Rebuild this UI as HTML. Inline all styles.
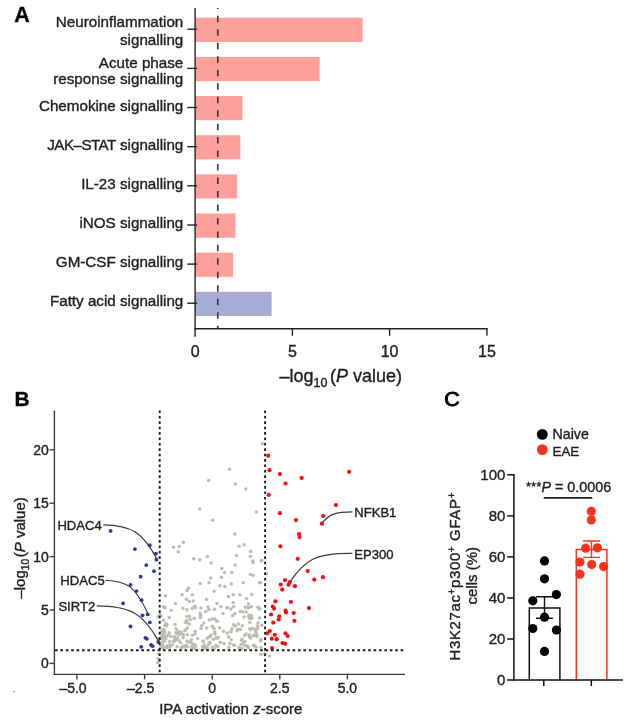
<!DOCTYPE html>
<html lang="en"><head><meta charset="utf-8"><title>Figure</title>
<style>html,body{margin:0;padding:0;background:#fff}svg{display:block}svg text{stroke:#1f1f24;stroke-width:.38px}</style>
</head><body>
<svg width="629" height="722" viewBox="0 0 629 722" font-family='"Liberation Sans", sans-serif' fill="#1f1f24">
<rect width="629" height="722" fill="#fff"/>
<g id="panelA">
<text x="14.3" y="21.6" font-size="21.5" font-weight="bold" fill="#000">A</text>
<rect x="195.1" y="17.7" width="167.5" height="24.2" fill="#fda09c"/>
<rect x="195.1" y="56.9" width="124.5" height="24.2" fill="#fda09c"/>
<rect x="195.1" y="96.0" width="47.4" height="24.2" fill="#fda09c"/>
<rect x="195.1" y="135.2" width="45.2" height="24.2" fill="#fda09c"/>
<rect x="195.1" y="174.3" width="42.0" height="24.2" fill="#fda09c"/>
<rect x="195.1" y="213.5" width="40.3" height="24.2" fill="#fda09c"/>
<rect x="195.1" y="252.6" width="38.0" height="24.2" fill="#fda09c"/>
<rect x="195.1" y="291.8" width="76.5" height="24.2" fill="#a7acd5"/>
<line x1="217.8" y1="8" x2="217.8" y2="329" stroke="#3c3c3c" stroke-width="1.7" stroke-dasharray="6.5 6.97" stroke-dashoffset="5.6"/>
<line x1="195.1" y1="8" x2="195.1" y2="336.8" stroke="#222" stroke-width="1.4"/>
<line x1="194.4" y1="328.8" x2="487.5" y2="328.8" stroke="#222" stroke-width="1.4"/>
<line x1="187.3" y1="29.2" x2="197" y2="29.2" stroke="#222" stroke-width="1.4"/>
<line x1="187.3" y1="68.4" x2="197" y2="68.4" stroke="#222" stroke-width="1.4"/>
<line x1="187.3" y1="107.5" x2="197" y2="107.5" stroke="#222" stroke-width="1.4"/>
<line x1="187.3" y1="146.7" x2="197" y2="146.7" stroke="#222" stroke-width="1.4"/>
<line x1="187.3" y1="185.8" x2="197" y2="185.8" stroke="#222" stroke-width="1.4"/>
<line x1="187.3" y1="225.0" x2="197" y2="225.0" stroke="#222" stroke-width="1.4"/>
<line x1="187.3" y1="264.1" x2="197" y2="264.1" stroke="#222" stroke-width="1.4"/>
<line x1="187.3" y1="303.2" x2="197" y2="303.2" stroke="#222" stroke-width="1.4"/>
<line x1="292.4" y1="328" x2="292.4" y2="335.8" stroke="#222" stroke-width="1.4"/>
<line x1="389.6" y1="328" x2="389.6" y2="335.8" stroke="#222" stroke-width="1.4"/>
<line x1="486.9" y1="328" x2="486.9" y2="335.8" stroke="#222" stroke-width="1.4"/>
<g font-size="15.2" text-anchor="end">
<text x="183.3" y="26.5">Neuroinflammation</text>
<text x="183.3" y="44.5">signalling</text>
<text x="183.3" y="67.5">Acute phase</text>
<text x="183.3" y="84.4">response signalling</text>
<text x="183.3" y="110.6">Chemokine signalling</text>
<text x="183.3" y="149.5"><tspan letter-spacing="-0.55">JAK–STAT</tspan> signalling</text>
<text x="183.3" y="188.7">IL-23 signalling</text>
<text x="183.3" y="227.9">iNOS signalling</text>
<text x="183.3" y="267.1">GM-CSF signalling</text>
<text x="183.3" y="306.3">Fatty acid signalling</text>
</g>
<g font-size="16" text-anchor="middle">
<text x="195.1" y="356.8">0</text>
<text x="292.4" y="356.8">5</text>
<text x="389.6" y="356.8">10</text>
<text x="486.9" y="356.8">15</text>
</g>
<text x="279.5" y="382.3" font-size="18">–log<tspan font-size="12.5" dy="4.5">10</tspan><tspan dy="-4.5" dx="2.5">(</tspan><tspan font-style="italic">P</tspan> value)</text>
</g>
<g id="panelB">
<text x="14.6" y="405.8" font-size="21" font-weight="bold" fill="#000">B</text>
<circle cx="262.4" cy="443.8" r="1.75" fill="#bdbcb5"/>
<circle cx="229.6" cy="469.2" r="1.75" fill="#bdbcb5"/>
<circle cx="208.6" cy="480.4" r="1.75" fill="#bdbcb5"/>
<circle cx="235.3" cy="484.1" r="1.75" fill="#bdbcb5"/>
<circle cx="245.8" cy="489.0" r="1.75" fill="#bdbcb5"/>
<circle cx="199.8" cy="509.1" r="1.75" fill="#bdbcb5"/>
<circle cx="256.3" cy="511.9" r="1.75" fill="#bdbcb5"/>
<circle cx="212.6" cy="520.3" r="1.75" fill="#bdbcb5"/>
<circle cx="234.9" cy="533.9" r="1.75" fill="#bdbcb5"/>
<circle cx="183.4" cy="542.3" r="1.75" fill="#bdbcb5"/>
<circle cx="173.5" cy="547.2" r="1.75" fill="#bdbcb5"/>
<circle cx="179.2" cy="546.4" r="1.75" fill="#bdbcb5"/>
<circle cx="178.3" cy="551.8" r="1.75" fill="#bdbcb5"/>
<circle cx="239.1" cy="546.3" r="1.75" fill="#bdbcb5"/>
<circle cx="244.1" cy="544.7" r="1.75" fill="#bdbcb5"/>
<circle cx="250.6" cy="551.6" r="1.75" fill="#bdbcb5"/>
<circle cx="250.4" cy="556.4" r="1.75" fill="#bdbcb5"/>
<circle cx="236.5" cy="555.6" r="1.75" fill="#bdbcb5"/>
<circle cx="207.5" cy="556.6" r="1.75" fill="#bdbcb5"/>
<circle cx="193.7" cy="558.7" r="1.75" fill="#bdbcb5"/>
<circle cx="199.8" cy="559.8" r="1.75" fill="#bdbcb5"/>
<circle cx="252.7" cy="561.0" r="1.75" fill="#bdbcb5"/>
<circle cx="261.8" cy="560.5" r="1.75" fill="#bdbcb5"/>
<circle cx="211.1" cy="563.0" r="1.75" fill="#bdbcb5"/>
<circle cx="253.2" cy="562.4" r="1.75" fill="#bdbcb5"/>
<circle cx="235.1" cy="564.9" r="1.75" fill="#bdbcb5"/>
<circle cx="221.8" cy="568.5" r="1.75" fill="#bdbcb5"/>
<circle cx="224.6" cy="572.5" r="1.75" fill="#bdbcb5"/>
<circle cx="231.7" cy="572.5" r="1.75" fill="#bdbcb5"/>
<circle cx="250.4" cy="574.4" r="1.75" fill="#bdbcb5"/>
<circle cx="253.2" cy="575.2" r="1.75" fill="#bdbcb5"/>
<circle cx="266.6" cy="573.5" r="1.75" fill="#bdbcb5"/>
<circle cx="210.7" cy="578.0" r="1.75" fill="#bdbcb5"/>
<circle cx="221.4" cy="577.3" r="1.75" fill="#bdbcb5"/>
<circle cx="200.2" cy="583.6" r="1.75" fill="#bdbcb5"/>
<circle cx="209.0" cy="582.8" r="1.75" fill="#bdbcb5"/>
<circle cx="219.9" cy="585.7" r="1.75" fill="#bdbcb5"/>
<circle cx="224.8" cy="586.6" r="1.75" fill="#bdbcb5"/>
<circle cx="231.3" cy="584.0" r="1.75" fill="#bdbcb5"/>
<circle cx="243.3" cy="582.8" r="1.75" fill="#bdbcb5"/>
<circle cx="259.5" cy="582.8" r="1.75" fill="#bdbcb5"/>
<circle cx="188.4" cy="588.2" r="1.75" fill="#bdbcb5"/>
<circle cx="187.0" cy="590.6" r="1.75" fill="#bdbcb5"/>
<circle cx="214.1" cy="591.2" r="1.75" fill="#bdbcb5"/>
<circle cx="165.5" cy="595.8" r="1.75" fill="#bdbcb5"/>
<circle cx="182.1" cy="594.8" r="1.75" fill="#bdbcb5"/>
<circle cx="192.4" cy="594.8" r="1.75" fill="#bdbcb5"/>
<circle cx="228.4" cy="596.4" r="1.75" fill="#bdbcb5"/>
<circle cx="233.2" cy="594.8" r="1.75" fill="#bdbcb5"/>
<circle cx="239.9" cy="594.8" r="1.75" fill="#bdbcb5"/>
<circle cx="251.7" cy="594.4" r="1.75" fill="#bdbcb5"/>
<circle cx="246.6" cy="598.6" r="1.75" fill="#bdbcb5"/>
<circle cx="186.5" cy="599.2" r="1.75" fill="#bdbcb5"/>
<circle cx="189.3" cy="601.5" r="1.75" fill="#bdbcb5"/>
<circle cx="193.2" cy="601.1" r="1.75" fill="#bdbcb5"/>
<circle cx="206.5" cy="599.6" r="1.75" fill="#bdbcb5"/>
<circle cx="175.4" cy="603.4" r="1.75" fill="#bdbcb5"/>
<circle cx="163.6" cy="606.8" r="1.75" fill="#bdbcb5"/>
<circle cx="194.7" cy="606.3" r="1.75" fill="#bdbcb5"/>
<circle cx="217.0" cy="603.4" r="1.75" fill="#bdbcb5"/>
<circle cx="220.8" cy="606.7" r="1.75" fill="#bdbcb5"/>
<circle cx="233.2" cy="602.5" r="1.75" fill="#bdbcb5"/>
<circle cx="233.6" cy="606.7" r="1.75" fill="#bdbcb5"/>
<circle cx="248.5" cy="604.0" r="1.75" fill="#bdbcb5"/>
<circle cx="251.3" cy="606.7" r="1.75" fill="#bdbcb5"/>
<circle cx="158.8" cy="654.0" r="1.75" fill="#bdbcb5"/>
<circle cx="158.4" cy="658.7" r="1.75" fill="#bdbcb5"/>
<circle cx="157.9" cy="662.5" r="1.75" fill="#bdbcb5"/>
<circle cx="260.9" cy="654.5" r="1.75" fill="#bdbcb5"/>
<circle cx="264.7" cy="654.0" r="1.75" fill="#bdbcb5"/>
<circle cx="269.5" cy="655.9" r="1.75" fill="#bdbcb5"/>
<circle cx="261.4" cy="561.0" r="1.75" fill="#bdbcb5"/>
<circle cx="260.6" cy="582.6" r="1.75" fill="#bdbcb5"/>
<circle cx="259.0" cy="609.0" r="1.75" fill="#bdbcb5"/>
<circle cx="258.0" cy="628.0" r="1.75" fill="#bdbcb5"/>
<circle cx="175.9" cy="639.3" r="1.75" fill="#bdbcb5"/>
<circle cx="167.9" cy="635.3" r="1.75" fill="#bdbcb5"/>
<circle cx="212.3" cy="647.6" r="1.75" fill="#bdbcb5"/>
<circle cx="204.7" cy="648.0" r="1.75" fill="#bdbcb5"/>
<circle cx="169.8" cy="647.3" r="1.75" fill="#bdbcb5"/>
<circle cx="244.8" cy="635.3" r="1.75" fill="#bdbcb5"/>
<circle cx="183.3" cy="646.0" r="1.75" fill="#bdbcb5"/>
<circle cx="257.2" cy="626.1" r="1.75" fill="#bdbcb5"/>
<circle cx="201.0" cy="628.5" r="1.75" fill="#bdbcb5"/>
<circle cx="165.3" cy="607.8" r="1.75" fill="#bdbcb5"/>
<circle cx="175.2" cy="640.6" r="1.75" fill="#bdbcb5"/>
<circle cx="192.0" cy="646.2" r="1.75" fill="#bdbcb5"/>
<circle cx="178.9" cy="640.8" r="1.75" fill="#bdbcb5"/>
<circle cx="216.4" cy="637.4" r="1.75" fill="#bdbcb5"/>
<circle cx="166.6" cy="647.5" r="1.75" fill="#bdbcb5"/>
<circle cx="229.9" cy="643.5" r="1.75" fill="#bdbcb5"/>
<circle cx="192.5" cy="635.2" r="1.75" fill="#bdbcb5"/>
<circle cx="206.7" cy="628.1" r="1.75" fill="#bdbcb5"/>
<circle cx="241.5" cy="640.2" r="1.75" fill="#bdbcb5"/>
<circle cx="185.4" cy="622.6" r="1.75" fill="#bdbcb5"/>
<circle cx="214.1" cy="628.6" r="1.75" fill="#bdbcb5"/>
<circle cx="234.9" cy="613.4" r="1.75" fill="#bdbcb5"/>
<circle cx="260.5" cy="640.7" r="1.75" fill="#bdbcb5"/>
<circle cx="203.1" cy="646.2" r="1.75" fill="#bdbcb5"/>
<circle cx="176.0" cy="628.8" r="1.75" fill="#bdbcb5"/>
<circle cx="238.5" cy="624.1" r="1.75" fill="#bdbcb5"/>
<circle cx="249.8" cy="628.7" r="1.75" fill="#bdbcb5"/>
<circle cx="231.4" cy="639.7" r="1.75" fill="#bdbcb5"/>
<circle cx="219.6" cy="627.7" r="1.75" fill="#bdbcb5"/>
<circle cx="246.2" cy="633.9" r="1.75" fill="#bdbcb5"/>
<circle cx="208.9" cy="609.6" r="1.75" fill="#bdbcb5"/>
<circle cx="166.7" cy="624.3" r="1.75" fill="#bdbcb5"/>
<circle cx="261.8" cy="625.2" r="1.75" fill="#bdbcb5"/>
<circle cx="189.5" cy="616.3" r="1.75" fill="#bdbcb5"/>
<circle cx="228.7" cy="636.9" r="1.75" fill="#bdbcb5"/>
<circle cx="207.6" cy="648.2" r="1.75" fill="#bdbcb5"/>
<circle cx="172.4" cy="644.7" r="1.75" fill="#bdbcb5"/>
<circle cx="238.9" cy="647.6" r="1.75" fill="#bdbcb5"/>
<circle cx="185.8" cy="645.8" r="1.75" fill="#bdbcb5"/>
<circle cx="249.4" cy="636.7" r="1.75" fill="#bdbcb5"/>
<circle cx="206.3" cy="647.1" r="1.75" fill="#bdbcb5"/>
<circle cx="250.6" cy="629.8" r="1.75" fill="#bdbcb5"/>
<circle cx="248.6" cy="616.4" r="1.75" fill="#bdbcb5"/>
<circle cx="202.9" cy="641.0" r="1.75" fill="#bdbcb5"/>
<circle cx="250.7" cy="638.0" r="1.75" fill="#bdbcb5"/>
<circle cx="175.9" cy="632.6" r="1.75" fill="#bdbcb5"/>
<circle cx="210.0" cy="642.6" r="1.75" fill="#bdbcb5"/>
<circle cx="187.3" cy="627.9" r="1.75" fill="#bdbcb5"/>
<circle cx="203.2" cy="648.5" r="1.75" fill="#bdbcb5"/>
<circle cx="218.3" cy="637.6" r="1.75" fill="#bdbcb5"/>
<circle cx="230.9" cy="609.1" r="1.75" fill="#bdbcb5"/>
<circle cx="223.5" cy="631.3" r="1.75" fill="#bdbcb5"/>
<circle cx="166.0" cy="623.7" r="1.75" fill="#bdbcb5"/>
<circle cx="249.7" cy="618.5" r="1.75" fill="#bdbcb5"/>
<circle cx="200.5" cy="617.5" r="1.75" fill="#bdbcb5"/>
<circle cx="171.1" cy="636.4" r="1.75" fill="#bdbcb5"/>
<circle cx="166.8" cy="625.8" r="1.75" fill="#bdbcb5"/>
<circle cx="181.8" cy="647.4" r="1.75" fill="#bdbcb5"/>
<circle cx="195.2" cy="644.9" r="1.75" fill="#bdbcb5"/>
<circle cx="160.5" cy="647.7" r="1.75" fill="#bdbcb5"/>
<circle cx="170.8" cy="645.2" r="1.75" fill="#bdbcb5"/>
<circle cx="163.1" cy="637.8" r="1.75" fill="#bdbcb5"/>
<circle cx="223.1" cy="613.5" r="1.75" fill="#bdbcb5"/>
<circle cx="186.2" cy="645.3" r="1.75" fill="#bdbcb5"/>
<circle cx="197.6" cy="638.4" r="1.75" fill="#bdbcb5"/>
<circle cx="247.1" cy="646.0" r="1.75" fill="#bdbcb5"/>
<circle cx="208.0" cy="606.9" r="1.75" fill="#bdbcb5"/>
<circle cx="169.3" cy="632.7" r="1.75" fill="#bdbcb5"/>
<circle cx="195.4" cy="646.6" r="1.75" fill="#bdbcb5"/>
<circle cx="245.0" cy="641.5" r="1.75" fill="#bdbcb5"/>
<circle cx="162.9" cy="644.9" r="1.75" fill="#bdbcb5"/>
<circle cx="214.4" cy="609.3" r="1.75" fill="#bdbcb5"/>
<circle cx="215.9" cy="645.4" r="1.75" fill="#bdbcb5"/>
<circle cx="214.4" cy="648.2" r="1.75" fill="#bdbcb5"/>
<circle cx="248.6" cy="607.7" r="1.75" fill="#bdbcb5"/>
<circle cx="187.1" cy="622.7" r="1.75" fill="#bdbcb5"/>
<circle cx="177.5" cy="637.7" r="1.75" fill="#bdbcb5"/>
<circle cx="214.8" cy="618.9" r="1.75" fill="#bdbcb5"/>
<circle cx="194.1" cy="618.5" r="1.75" fill="#bdbcb5"/>
<circle cx="243.3" cy="643.0" r="1.75" fill="#bdbcb5"/>
<circle cx="247.5" cy="607.4" r="1.75" fill="#bdbcb5"/>
<circle cx="244.0" cy="617.1" r="1.75" fill="#bdbcb5"/>
<circle cx="183.6" cy="635.1" r="1.75" fill="#bdbcb5"/>
<circle cx="163.3" cy="648.1" r="1.75" fill="#bdbcb5"/>
<circle cx="186.9" cy="641.0" r="1.75" fill="#bdbcb5"/>
<circle cx="258.1" cy="622.9" r="1.75" fill="#bdbcb5"/>
<circle cx="256.1" cy="634.3" r="1.75" fill="#bdbcb5"/>
<circle cx="257.9" cy="607.2" r="1.75" fill="#bdbcb5"/>
<circle cx="183.0" cy="637.7" r="1.75" fill="#bdbcb5"/>
<circle cx="180.6" cy="642.8" r="1.75" fill="#bdbcb5"/>
<circle cx="224.2" cy="643.6" r="1.75" fill="#bdbcb5"/>
<circle cx="246.2" cy="612.1" r="1.75" fill="#bdbcb5"/>
<circle cx="227.1" cy="632.9" r="1.75" fill="#bdbcb5"/>
<circle cx="169.1" cy="617.4" r="1.75" fill="#bdbcb5"/>
<circle cx="240.3" cy="611.5" r="1.75" fill="#bdbcb5"/>
<circle cx="209.3" cy="620.0" r="1.75" fill="#bdbcb5"/>
<circle cx="241.0" cy="644.4" r="1.75" fill="#bdbcb5"/>
<circle cx="242.2" cy="639.0" r="1.75" fill="#bdbcb5"/>
<circle cx="200.9" cy="608.1" r="1.75" fill="#bdbcb5"/>
<circle cx="257.1" cy="636.3" r="1.75" fill="#bdbcb5"/>
<circle cx="177.8" cy="631.0" r="1.75" fill="#bdbcb5"/>
<circle cx="242.8" cy="611.8" r="1.75" fill="#bdbcb5"/>
<circle cx="244.8" cy="645.4" r="1.75" fill="#bdbcb5"/>
<circle cx="227.5" cy="607.6" r="1.75" fill="#bdbcb5"/>
<circle cx="216.5" cy="638.3" r="1.75" fill="#bdbcb5"/>
<circle cx="162.0" cy="645.8" r="1.75" fill="#bdbcb5"/>
<circle cx="226.8" cy="608.1" r="1.75" fill="#bdbcb5"/>
<circle cx="255.7" cy="630.8" r="1.75" fill="#bdbcb5"/>
<circle cx="249.4" cy="634.9" r="1.75" fill="#bdbcb5"/>
<circle cx="182.0" cy="633.9" r="1.75" fill="#bdbcb5"/>
<circle cx="220.3" cy="642.4" r="1.75" fill="#bdbcb5"/>
<circle cx="203.2" cy="641.7" r="1.75" fill="#bdbcb5"/>
<circle cx="253.3" cy="645.8" r="1.75" fill="#bdbcb5"/>
<circle cx="207.2" cy="638.2" r="1.75" fill="#bdbcb5"/>
<circle cx="252.7" cy="628.2" r="1.75" fill="#bdbcb5"/>
<circle cx="254.1" cy="635.5" r="1.75" fill="#bdbcb5"/>
<circle cx="214.7" cy="632.0" r="1.75" fill="#bdbcb5"/>
<circle cx="162.4" cy="631.0" r="1.75" fill="#bdbcb5"/>
<circle cx="179.2" cy="634.6" r="1.75" fill="#bdbcb5"/>
<circle cx="242.0" cy="648.5" r="1.75" fill="#bdbcb5"/>
<circle cx="208.8" cy="644.6" r="1.75" fill="#bdbcb5"/>
<circle cx="217.3" cy="621.3" r="1.75" fill="#bdbcb5"/>
<circle cx="213.4" cy="639.3" r="1.75" fill="#bdbcb5"/>
<circle cx="240.5" cy="629.5" r="1.75" fill="#bdbcb5"/>
<circle cx="217.7" cy="646.5" r="1.75" fill="#bdbcb5"/>
<circle cx="188.7" cy="642.1" r="1.75" fill="#bdbcb5"/>
<circle cx="212.3" cy="618.9" r="1.75" fill="#bdbcb5"/>
<circle cx="238.0" cy="629.2" r="1.75" fill="#bdbcb5"/>
<circle cx="205.7" cy="611.4" r="1.75" fill="#bdbcb5"/>
<circle cx="212.1" cy="626.8" r="1.75" fill="#bdbcb5"/>
<circle cx="231.2" cy="631.5" r="1.75" fill="#bdbcb5"/>
<circle cx="214.9" cy="634.1" r="1.75" fill="#bdbcb5"/>
<circle cx="256.5" cy="633.0" r="1.75" fill="#bdbcb5"/>
<circle cx="249.9" cy="622.6" r="1.75" fill="#bdbcb5"/>
<circle cx="187.0" cy="609.7" r="1.75" fill="#bdbcb5"/>
<circle cx="256.7" cy="629.3" r="1.75" fill="#bdbcb5"/>
<circle cx="174.5" cy="636.8" r="1.75" fill="#bdbcb5"/>
<circle cx="185.0" cy="647.3" r="1.75" fill="#bdbcb5"/>
<circle cx="228.8" cy="647.3" r="1.75" fill="#bdbcb5"/>
<circle cx="252.0" cy="618.3" r="1.75" fill="#bdbcb5"/>
<circle cx="233.5" cy="645.1" r="1.75" fill="#bdbcb5"/>
<circle cx="175.1" cy="624.5" r="1.75" fill="#bdbcb5"/>
<circle cx="182.9" cy="608.3" r="1.75" fill="#bdbcb5"/>
<circle cx="210.2" cy="636.4" r="1.75" fill="#bdbcb5"/>
<circle cx="245.4" cy="607.1" r="1.75" fill="#bdbcb5"/>
<circle cx="204.5" cy="644.9" r="1.75" fill="#bdbcb5"/>
<circle cx="195.1" cy="631.3" r="1.75" fill="#bdbcb5"/>
<circle cx="193.0" cy="643.9" r="1.75" fill="#bdbcb5"/>
<circle cx="162.5" cy="636.8" r="1.75" fill="#bdbcb5"/>
<circle cx="194.3" cy="648.3" r="1.75" fill="#bdbcb5"/>
<circle cx="212.8" cy="626.3" r="1.75" fill="#bdbcb5"/>
<circle cx="261.0" cy="647.5" r="1.75" fill="#bdbcb5"/>
<circle cx="259.6" cy="618.0" r="1.75" fill="#bdbcb5"/>
<circle cx="187.6" cy="646.5" r="1.75" fill="#bdbcb5"/>
<circle cx="240.0" cy="648.0" r="1.75" fill="#bdbcb5"/>
<circle cx="173.7" cy="641.3" r="1.75" fill="#bdbcb5"/>
<circle cx="253.5" cy="635.4" r="1.75" fill="#bdbcb5"/>
<circle cx="186.9" cy="616.4" r="1.75" fill="#bdbcb5"/>
<circle cx="254.3" cy="645.3" r="1.75" fill="#bdbcb5"/>
<circle cx="231.9" cy="628.8" r="1.75" fill="#bdbcb5"/>
<circle cx="166.4" cy="646.9" r="1.75" fill="#bdbcb5"/>
<circle cx="203.9" cy="623.1" r="1.75" fill="#bdbcb5"/>
<circle cx="256.2" cy="647.3" r="1.75" fill="#bdbcb5"/>
<circle cx="242.3" cy="625.8" r="1.75" fill="#bdbcb5"/>
<circle cx="247.8" cy="647.0" r="1.75" fill="#bdbcb5"/>
<circle cx="248.5" cy="647.4" r="1.75" fill="#bdbcb5"/>
<circle cx="195.1" cy="634.0" r="1.75" fill="#bdbcb5"/>
<circle cx="255.0" cy="629.6" r="1.75" fill="#bdbcb5"/>
<circle cx="173.7" cy="641.4" r="1.75" fill="#bdbcb5"/>
<circle cx="184.8" cy="630.8" r="1.75" fill="#bdbcb5"/>
<circle cx="177.0" cy="646.4" r="1.75" fill="#bdbcb5"/>
<circle cx="181.1" cy="647.8" r="1.75" fill="#bdbcb5"/>
<circle cx="191.6" cy="639.8" r="1.75" fill="#bdbcb5"/>
<circle cx="190.1" cy="619.5" r="1.75" fill="#bdbcb5"/>
<circle cx="178.6" cy="632.0" r="1.75" fill="#bdbcb5"/>
<circle cx="162.4" cy="638.4" r="1.75" fill="#bdbcb5"/>
<circle cx="162.1" cy="642.0" r="1.75" fill="#bdbcb5"/>
<circle cx="216.7" cy="620.9" r="1.75" fill="#bdbcb5"/>
<circle cx="208.9" cy="644.1" r="1.75" fill="#bdbcb5"/>
<circle cx="171.3" cy="610.2" r="1.75" fill="#bdbcb5"/>
<circle cx="211.0" cy="635.0" r="1.75" fill="#bdbcb5"/>
<circle cx="200.6" cy="615.6" r="1.75" fill="#bdbcb5"/>
<circle cx="230.6" cy="631.7" r="1.75" fill="#bdbcb5"/>
<circle cx="195.5" cy="607.5" r="1.75" fill="#bdbcb5"/>
<circle cx="232.6" cy="615.7" r="1.75" fill="#bdbcb5"/>
<circle cx="201.8" cy="625.7" r="1.75" fill="#bdbcb5"/>
<circle cx="166.0" cy="638.4" r="1.75" fill="#bdbcb5"/>
<circle cx="167.7" cy="645.8" r="1.75" fill="#bdbcb5"/>
<circle cx="186.6" cy="620.5" r="1.75" fill="#bdbcb5"/>
<circle cx="169.1" cy="644.9" r="1.75" fill="#bdbcb5"/>
<circle cx="249.3" cy="615.2" r="1.75" fill="#bdbcb5"/>
<circle cx="189.3" cy="624.0" r="1.75" fill="#bdbcb5"/>
<circle cx="190.4" cy="642.3" r="1.75" fill="#bdbcb5"/>
<circle cx="176.6" cy="633.8" r="1.75" fill="#bdbcb5"/>
<circle cx="187.4" cy="634.4" r="1.75" fill="#bdbcb5"/>
<circle cx="259.7" cy="608.7" r="1.75" fill="#bdbcb5"/>
<circle cx="185.4" cy="629.9" r="1.75" fill="#bdbcb5"/>
<circle cx="192.1" cy="608.4" r="1.75" fill="#bdbcb5"/>
<circle cx="160.6" cy="638.1" r="1.75" fill="#bdbcb5"/>
<circle cx="208.9" cy="637.1" r="1.75" fill="#bdbcb5"/>
<circle cx="181.0" cy="631.9" r="1.75" fill="#bdbcb5"/>
<circle cx="161.0" cy="631.8" r="1.75" fill="#bdbcb5"/>
<circle cx="169.7" cy="641.5" r="1.75" fill="#bdbcb5"/>
<circle cx="164.8" cy="636.3" r="1.75" fill="#bdbcb5"/>
<circle cx="191.5" cy="648.2" r="1.75" fill="#bdbcb5"/>
<circle cx="220.2" cy="642.6" r="1.75" fill="#bdbcb5"/>
<circle cx="237.1" cy="630.7" r="1.75" fill="#bdbcb5"/>
<circle cx="233.5" cy="624.7" r="1.75" fill="#bdbcb5"/>
<circle cx="200.2" cy="613.2" r="1.75" fill="#bdbcb5"/>
<circle cx="260.9" cy="639.2" r="1.75" fill="#bdbcb5"/>
<circle cx="234.4" cy="645.3" r="1.75" fill="#bdbcb5"/>
<circle cx="165.0" cy="625.4" r="1.75" fill="#bdbcb5"/>
<circle cx="251.5" cy="615.6" r="1.75" fill="#bdbcb5"/>
<circle cx="235.4" cy="626.1" r="1.75" fill="#bdbcb5"/>
<circle cx="174.7" cy="638.1" r="1.75" fill="#bdbcb5"/>
<circle cx="164.7" cy="641.0" r="1.75" fill="#bdbcb5"/>
<circle cx="164.6" cy="633.0" r="1.75" fill="#bdbcb5"/>
<circle cx="165.1" cy="636.6" r="1.75" fill="#bdbcb5"/>
<circle cx="163.5" cy="620.3" r="1.75" fill="#bdbcb5"/>
<circle cx="158.2" cy="616.8" r="1.75" fill="#bdbcb5"/>
<circle cx="160.9" cy="615.8" r="1.75" fill="#bdbcb5"/>
<circle cx="164.7" cy="632.1" r="1.75" fill="#bdbcb5"/>
<circle cx="163.0" cy="634.5" r="1.75" fill="#bdbcb5"/>
<circle cx="163.4" cy="629.6" r="1.75" fill="#bdbcb5"/>
<circle cx="158.0" cy="640.7" r="1.75" fill="#bdbcb5"/>
<circle cx="164.0" cy="630.1" r="1.75" fill="#bdbcb5"/>
<circle cx="162.3" cy="635.7" r="1.75" fill="#bdbcb5"/>
<circle cx="158.5" cy="638.5" r="1.75" fill="#bdbcb5"/>
<circle cx="160.0" cy="614.7" r="1.75" fill="#bdbcb5"/>
<circle cx="110.7" cy="530.9" r="1.9" fill="#2b3aa6"/>
<circle cx="134.9" cy="549.1" r="1.9" fill="#2b3aa6"/>
<circle cx="149.8" cy="545.2" r="1.9" fill="#2b3aa6"/>
<circle cx="155.9" cy="553.6" r="1.9" fill="#2b3aa6"/>
<circle cx="156.4" cy="559.7" r="1.9" fill="#2b3aa6"/>
<circle cx="146.3" cy="565.1" r="1.9" fill="#2b3aa6"/>
<circle cx="154.0" cy="571.2" r="1.9" fill="#2b3aa6"/>
<circle cx="140.6" cy="576.7" r="1.9" fill="#2b3aa6"/>
<circle cx="130.5" cy="584.8" r="1.9" fill="#2b3aa6"/>
<circle cx="136.6" cy="591.1" r="1.9" fill="#2b3aa6"/>
<circle cx="141.6" cy="600.2" r="1.9" fill="#2b3aa6"/>
<circle cx="123.1" cy="603.3" r="1.9" fill="#2b3aa6"/>
<circle cx="142.5" cy="615.3" r="1.9" fill="#2b3aa6"/>
<circle cx="147.7" cy="614.3" r="1.9" fill="#2b3aa6"/>
<circle cx="149.8" cy="622.4" r="1.9" fill="#2b3aa6"/>
<circle cx="130.5" cy="626.4" r="1.9" fill="#2b3aa6"/>
<circle cx="145.4" cy="637.8" r="1.9" fill="#2b3aa6"/>
<circle cx="146.9" cy="638.8" r="1.9" fill="#2b3aa6"/>
<circle cx="141.2" cy="646.8" r="1.9" fill="#2b3aa6"/>
<circle cx="151.1" cy="644.9" r="1.9" fill="#2b3aa6"/>
<circle cx="152.6" cy="646.2" r="1.9" fill="#2b3aa6"/>
<circle cx="158.4" cy="642.0" r="1.9" fill="#2b3aa6"/>
<circle cx="268.2" cy="455.7" r="2.1" fill="#f50f0f"/>
<circle cx="269.5" cy="470.2" r="2.1" fill="#f50f0f"/>
<circle cx="279.9" cy="474.1" r="2.1" fill="#f50f0f"/>
<circle cx="285.5" cy="483.5" r="2.1" fill="#f50f0f"/>
<circle cx="301.6" cy="477.9" r="2.1" fill="#f50f0f"/>
<circle cx="349.1" cy="471.8" r="2.1" fill="#f50f0f"/>
<circle cx="268.7" cy="494.9" r="2.1" fill="#f50f0f"/>
<circle cx="335.9" cy="505.1" r="2.1" fill="#f50f0f"/>
<circle cx="279.9" cy="513.2" r="2.1" fill="#f50f0f"/>
<circle cx="323.2" cy="516.0" r="2.1" fill="#f50f0f"/>
<circle cx="296.0" cy="520.1" r="2.1" fill="#f50f0f"/>
<circle cx="321.9" cy="523.7" r="2.1" fill="#f50f0f"/>
<circle cx="299.0" cy="534.1" r="2.1" fill="#f50f0f"/>
<circle cx="299.5" cy="537.1" r="2.1" fill="#f50f0f"/>
<circle cx="280.4" cy="546.3" r="2.1" fill="#f50f0f"/>
<circle cx="297.7" cy="558.8" r="2.1" fill="#f50f0f"/>
<circle cx="307.7" cy="571.1" r="2.1" fill="#f50f0f"/>
<circle cx="322.9" cy="577.2" r="2.1" fill="#f50f0f"/>
<circle cx="314.3" cy="579.6" r="2.1" fill="#f50f0f"/>
<circle cx="285.0" cy="580.1" r="2.1" fill="#f50f0f"/>
<circle cx="289.9" cy="582.1" r="2.1" fill="#f50f0f"/>
<circle cx="288.6" cy="584.7" r="2.1" fill="#f50f0f"/>
<circle cx="280.7" cy="584.5" r="2.1" fill="#f50f0f"/>
<circle cx="294.9" cy="586.2" r="2.1" fill="#f50f0f"/>
<circle cx="282.2" cy="589.6" r="2.1" fill="#f50f0f"/>
<circle cx="275.4" cy="601.3" r="2.1" fill="#f50f0f"/>
<circle cx="290.9" cy="602.0" r="2.1" fill="#f50f0f"/>
<circle cx="272.8" cy="606.6" r="2.1" fill="#f50f0f"/>
<circle cx="274.1" cy="608.6" r="2.1" fill="#f50f0f"/>
<circle cx="308.9" cy="608.1" r="2.1" fill="#f50f0f"/>
<circle cx="285.5" cy="610.7" r="2.1" fill="#f50f0f"/>
<circle cx="286.0" cy="612.4" r="2.1" fill="#f50f0f"/>
<circle cx="271.0" cy="614.5" r="2.1" fill="#f50f0f"/>
<circle cx="293.7" cy="613.0" r="2.1" fill="#f50f0f"/>
<circle cx="279.2" cy="616.3" r="2.1" fill="#f50f0f"/>
<circle cx="278.7" cy="619.6" r="2.1" fill="#f50f0f"/>
<circle cx="294.4" cy="620.8" r="2.1" fill="#f50f0f"/>
<circle cx="273.3" cy="622.6" r="2.1" fill="#f50f0f"/>
<circle cx="269.8" cy="631.0" r="2.1" fill="#f50f0f"/>
<circle cx="267.2" cy="633.3" r="2.1" fill="#f50f0f"/>
<circle cx="285.5" cy="633.3" r="2.1" fill="#f50f0f"/>
<circle cx="287.6" cy="635.9" r="2.1" fill="#f50f0f"/>
<circle cx="274.8" cy="634.8" r="2.1" fill="#f50f0f"/>
<circle cx="271.8" cy="638.7" r="2.1" fill="#f50f0f"/>
<circle cx="276.6" cy="639.2" r="2.1" fill="#f50f0f"/>
<circle cx="282.5" cy="643.0" r="2.1" fill="#f50f0f"/>
<circle cx="285.0" cy="643.7" r="2.1" fill="#f50f0f"/>
<circle cx="272.0" cy="648.1" r="2.1" fill="#f50f0f"/>
<line x1="159.7" y1="410.5" x2="159.7" y2="674" stroke="#1a1a1a" stroke-width="1.9" stroke-dasharray="2.6 2.8"/>
<line x1="265.1" y1="410.5" x2="265.1" y2="674" stroke="#1a1a1a" stroke-width="1.9" stroke-dasharray="2.6 2.8"/>
<line x1="55" y1="650.3" x2="405" y2="650.3" stroke="#1a1a1a" stroke-width="1.9" stroke-dasharray="2.6 2.8"/>
<line x1="54.4" y1="410.5" x2="54.4" y2="675.1" stroke="#3c3c3c" stroke-width="1.4"/>
<line x1="53.7" y1="674.4" x2="405" y2="674.4" stroke="#3c3c3c" stroke-width="1.4"/>
<line x1="49.6" y1="663.4" x2="54.4" y2="663.4" stroke="#3c3c3c" stroke-width="1.4"/>
<line x1="49.6" y1="610.0" x2="54.4" y2="610.0" stroke="#3c3c3c" stroke-width="1.4"/>
<line x1="49.6" y1="556.6" x2="54.4" y2="556.6" stroke="#3c3c3c" stroke-width="1.4"/>
<line x1="49.6" y1="503.2" x2="54.4" y2="503.2" stroke="#3c3c3c" stroke-width="1.4"/>
<line x1="49.6" y1="449.8" x2="54.4" y2="449.8" stroke="#3c3c3c" stroke-width="1.4"/>
<line x1="76.9" y1="674.4" x2="76.9" y2="679.4" stroke="#3c3c3c" stroke-width="1.4"/>
<line x1="144.6" y1="674.4" x2="144.6" y2="679.4" stroke="#3c3c3c" stroke-width="1.4"/>
<line x1="212.2" y1="674.4" x2="212.2" y2="679.4" stroke="#3c3c3c" stroke-width="1.4"/>
<line x1="279.8" y1="674.4" x2="279.8" y2="679.4" stroke="#3c3c3c" stroke-width="1.4"/>
<line x1="347.4" y1="674.4" x2="347.4" y2="679.4" stroke="#3c3c3c" stroke-width="1.4"/>
<g font-size="14" text-anchor="end">
<text x="48.8" y="668.4">0</text>
<text x="48.8" y="615.0">5</text>
<text x="48.8" y="561.6">10</text>
<text x="48.8" y="508.2">15</text>
<text x="48.8" y="454.8">20</text>
</g>
<g font-size="14" text-anchor="middle">
<text x="73.0" y="692.6">–5.0</text>
<text x="140.7" y="692.6">–2.5</text>
<text x="212.2" y="692.6">0</text>
<text x="279.8" y="692.6">2.5</text>
<text x="347.4" y="692.6">5.0</text>
</g>
<text x="159.2" y="714.4" font-size="15">IPA activation <tspan font-style="italic">z</tspan>-score</text>
<text transform="translate(25,598.6) rotate(-90)" font-size="15">–log<tspan font-size="10.3" dy="3.5">10</tspan><tspan dy="-3.5" dx="1.5">(</tspan><tspan font-style="italic">P</tspan> value)</text>
<g font-size="13.1">
<text x="57.4" y="530">HDAC4</text>
<text x="60.3" y="584.5">HDAC5</text>
<text x="58.4" y="611.1">SIRT2</text>
<text x="354.2" y="516.5">NFKB1</text>
<text x="354.2" y="558.5">EP300</text>
</g>
<path d="M103.4,524.8 C131,525 143,532 157.8,561" fill="none" stroke="#3c3c3c" stroke-width="1.15"/>
<path d="M105.3,580.2 C127,581 135,586 148.2,614" fill="none" stroke="#3c3c3c" stroke-width="1.15"/>
<path d="M96.7,605.8 C130,606 143,613 158.7,641.4" fill="none" stroke="#3c3c3c" stroke-width="1.15"/>
<path d="M352.4,511.9 C336,512 329,514 321.9,523.4" fill="none" stroke="#3c3c3c" stroke-width="1.15"/>
<path d="M352.4,553.4 C315,553 305,560 289.9,581.9" fill="none" stroke="#3c3c3c" stroke-width="1.15"/>
<circle cx="14" cy="691.5" r="0.9" fill="#7f9fe0"/>
</g>
<g id="panelC">
<text transform="translate(444.3,406.4) scale(1.1,1)" font-size="19.4" fill="#000" style="stroke:#000;stroke-width:.9px">C</text>
<circle cx="542.3" cy="434.4" r="5.4" fill="#000"/>
<circle cx="542.3" cy="449.6" r="5.4" fill="#f5331f"/>
<text x="552.5" y="439.2" font-size="14.2">Naive</text>
<text x="552.5" y="455.9" font-size="13.4">EAE</text>
<path d="M529.3,680.1V607.9H559.9V680.1" fill="#fff" stroke="#111" stroke-width="1.5"/>
<path d="M576.3,679.4V549.6H606.9V679.4" fill="#fff" stroke="#f5331f" stroke-width="1.5"/>
<path d="M535.9,596.7H552.9M544.5,596.7V618.2M535.9,618.2H552.9" stroke="#111" stroke-width="1.4" fill="none"/>
<path d="M583,541H600M591.5,541V557.4M583,557.4H600" stroke="#f5331f" stroke-width="1.4" fill="none"/>
<circle cx="544.5" cy="560.9" r="4.6" fill="#000"/>
<circle cx="544.5" cy="578.8" r="4.6" fill="#000"/>
<circle cx="556.4" cy="594.6" r="4.6" fill="#000"/>
<circle cx="532.8" cy="600.8" r="4.6" fill="#000"/>
<circle cx="544.5" cy="617.2" r="4.6" fill="#000"/>
<circle cx="532.8" cy="628.5" r="4.6" fill="#000"/>
<circle cx="556.4" cy="630.1" r="4.6" fill="#000"/>
<circle cx="544.5" cy="651.4" r="4.6" fill="#000"/>
<circle cx="591.3" cy="511.3" r="4.6" fill="#f5331f"/>
<circle cx="591.3" cy="519.9" r="4.6" fill="#f5331f"/>
<circle cx="585.7" cy="548.2" r="4.6" fill="#f5331f"/>
<circle cx="597.4" cy="547.8" r="4.6" fill="#f5331f"/>
<circle cx="580" cy="562.1" r="4.6" fill="#f5331f"/>
<circle cx="591.7" cy="564.6" r="4.6" fill="#f5331f"/>
<circle cx="603.6" cy="566.6" r="4.6" fill="#f5331f"/>
<circle cx="580" cy="574.2" r="4.6" fill="#f5331f"/>
<line x1="513.9" y1="474.1" x2="513.9" y2="680.8" stroke="#111" stroke-width="1.5"/>
<line x1="507.2" y1="680.1" x2="623" y2="680.1" stroke="#111" stroke-width="1.5"/>
<line x1="507.2" y1="639.0" x2="513.9" y2="639.0" stroke="#111" stroke-width="1.5"/>
<line x1="507.2" y1="598.0" x2="513.9" y2="598.0" stroke="#111" stroke-width="1.5"/>
<line x1="507.2" y1="556.9" x2="513.9" y2="556.9" stroke="#111" stroke-width="1.5"/>
<line x1="507.2" y1="515.9" x2="513.9" y2="515.9" stroke="#111" stroke-width="1.5"/>
<line x1="507.2" y1="474.8" x2="513.9" y2="474.8" stroke="#111" stroke-width="1.5"/>
<line x1="543.8" y1="680.1" x2="543.8" y2="686" stroke="#111" stroke-width="1.5"/>
<line x1="591.3" y1="680.1" x2="591.3" y2="686" stroke="#111" stroke-width="1.5"/>
<g font-size="15" text-anchor="end">
<text x="505.4" y="685.4">0</text>
<text x="505.4" y="644.3">20</text>
<text x="505.4" y="603.3">40</text>
<text x="505.4" y="562.2">60</text>
<text x="505.4" y="521.2">80</text>
<text x="505.4" y="480.1">100</text>
</g>
<text x="526.3" y="492.2" font-size="14.3"><tspan font-size="12" dy="-1.6" letter-spacing="0.4">***</tspan><tspan dy="1.6" font-style="italic">P</tspan> = 0.0006</text>
<line x1="543.7" y1="497.9" x2="592.3" y2="497.9" stroke="#222" stroke-width="1.6"/>
<text transform="translate(459.7,660.5) rotate(-90)" font-size="15" textLength="168" lengthAdjust="spacing">H3K27ac<tspan font-size="10" dy="-5">+</tspan><tspan dy="5">p300</tspan><tspan font-size="10" dy="-5">+</tspan><tspan dy="5"> GFAP</tspan><tspan font-size="10" dy="-5">+</tspan></text>
<text transform="translate(477,604.4) rotate(-90)" font-size="15">cells (%)</text>
</g>
</svg>
</body></html>
